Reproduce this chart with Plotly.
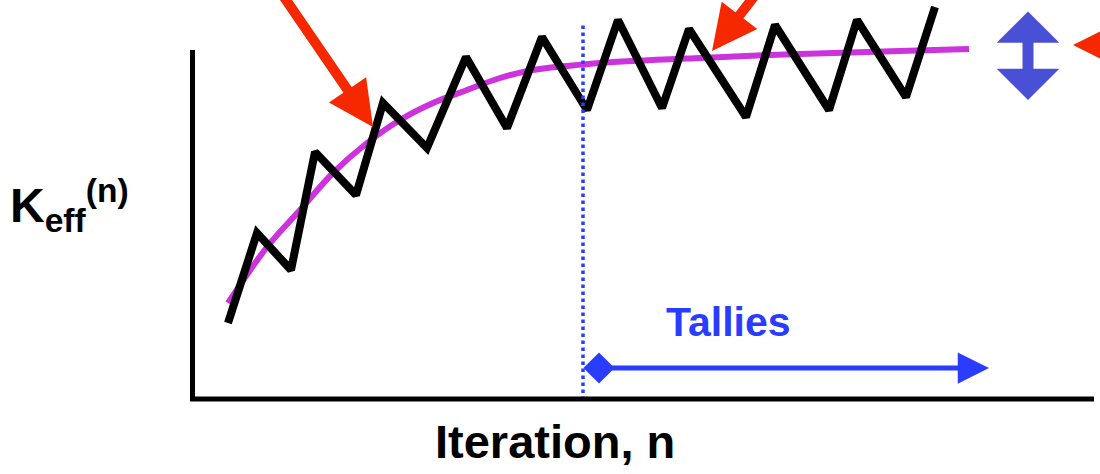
import plotly.graph_objects as go

# Iteration axis starts at the y axis line; keff is height above the x axis line
# (arbitrary schematic units)
iter_zigzag = [37, 66, 100, 124, 165, 192, 236, 275, 316, 351, 396, 427, 471, 498, 555, 584, 638, 666, 715, 744]
keff_zigzag = [75, 165, 128, 246, 203, 295, 250, 341, 270, 361, 288, 378, 290, 369, 281, 373, 288, 378, 301, 391]

iter_mean = [37, 76, 109, 142, 176, 209, 242, 276, 309, 342, 376, 409, 509, 609, 709, 778]
keff_mean = [95, 151, 188, 225, 255, 278, 295, 308, 320, 328, 332, 335, 340, 344, 347, 349]

tally_start = 392   # first tallied iteration (dotted line)
tally_end = 798
tally_level = 30

FONT = "Liberation Sans, Arial, sans-serif"
RED = "#f52800"
BLUE = "#2a3cff"
SLATE = "#4a50d6"
MAGENTA = "#cc33dd"

fig = go.Figure()

# smooth average curve
fig.add_trace(go.Scatter(
    x=iter_mean, y=keff_mean, mode="lines",
    line=dict(color=MAGENTA, width=6, shape="spline"),
    hoverinfo="skip"
))

# per-iteration keff estimates
fig.add_trace(go.Scatter(
    x=iter_zigzag, y=keff_zigzag, mode="lines",
    line=dict(color="black", width=8),
    hoverinfo="skip"
))

# start of the tally range
fig.add_trace(go.Scatter(
    x=[tally_start, tally_start], y=[-2, 375], mode="lines",
    line=dict(color=BLUE, width=3.5, dash="dot"),
    hoverinfo="skip"
))
fig.add_trace(go.Scatter(
    x=[tally_start + 16], y=[tally_level], mode="markers",
    marker=dict(symbol="diamond", size=24, color=BLUE),
    hoverinfo="skip"
))

# axis lines
fig.add_shape(type="line", x0=1.5, x1=1.5, y0=-3, y1=348,
              line=dict(color="black", width=5))
fig.add_shape(type="line", x0=-1, x1=903, y0=-1, y1=-1,
              line=dict(color="black", width=5))


def arrow(x, y, ax, ay, color, width, size, head=2, both=False):
    fig.add_annotation(
        x=x, y=y, ax=ax, ay=ay, xref="x", yref="y", axref="x", ayref="y",
        text="", showarrow=True, arrowhead=head, arrowsize=size,
        arrowwidth=width, arrowcolor=color, standoff=0,
        arrowside="end+start" if both else "end",
        startarrowhead=head, startarrowsize=size, startstandoff=0
    )


arrow(182, 271, 69, 436, RED, 10, 0.9)
arrow(521, 347, 612, 465, RED, 10, 0.9)
arrow(882, 353, 969, 353, RED, 10, 0.9)
arrow(837, 298, 837, 388, SLATE, 11, 0.95, head=1, both=True)
arrow(tally_end, tally_level, tally_start + 16, tally_level, BLUE, 5, 1.25)

fig.add_annotation(x=537, y=76, xref="x", yref="y", text="<b>Tallies</b>",
                   showarrow=False, font=dict(family=FONT, size=41, color=BLUE))
fig.add_annotation(x=364, y=-43, xref="x", yref="y", text="<b>Iteration, n</b>",
                   showarrow=False, font=dict(family=FONT, size=47, color="black"))
fig.add_annotation(x=-183, y=193, xref="x", yref="y", xanchor="left",
                   text="<b>K<sub>eff</sub><sup>(n)</sup></b>",
                   showarrow=False, font=dict(family=FONT, size=48, color="black"))

fig.update_layout(
    width=1100, height=474,
    margin=dict(l=0, r=0, t=0, b=0),
    plot_bgcolor="white", paper_bgcolor="white",
    showlegend=False,
    xaxis=dict(range=[-191, 909], visible=False, fixedrange=True),
    yaxis=dict(range=[-76, 398], visible=False, fixedrange=True),
)

# drop the default page margin so the figure fills the window exactly
fig.write_html("out.html", config={"displayModeBar": False},
               post_script="document.body.style.margin='0';")
